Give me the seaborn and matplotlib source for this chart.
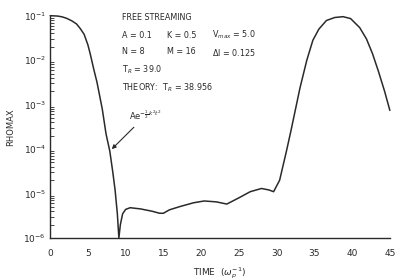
import numpy as np
import pandas as pd
import matplotlib
matplotlib.use("Agg")
import matplotlib.pyplot as plt
import seaborn as sns
from matplotlib.ticker import LogLocator, FixedLocator, NullFormatter


# values
time = [0, 1, 1.6, 2.2, 2.9, 3.5, 4.0, 4.5, 5.0, 5.3, 5.8, 6.2, 6.9, 7.4,
        7.9, 8.3, 8.6, 8.9, 9.1, 9.3, 9.6, 10.0, 10.6, 12, 13.5, 14.5, 15,
        15.8, 17.2, 19, 20.4, 22, 23.4, 25, 26.5, 28, 29, 29.6, 30.4, 31.3,
        31.9, 33.1, 34, 34.8, 35.6, 36.6, 37.7, 38.8, 39.8, 41, 41.9, 42.7,
        43.5, 44.3, 45]
rhomax = [0.1, 0.098, 0.094, 0.087, 0.076, 0.065, 0.051, 0.038, 0.022,
          0.014, 6e-3, 3.2e-3, 8e-4, 2.2e-4, 9e-5, 3e-5, 1.2e-5, 3.5e-6,
          1e-6, 2e-6, 3.5e-6, 4.4e-6, 4.8e-6, 4.5e-6, 4e-6, 3.6e-6, 3.6e-6,
          4.3e-6, 5.1e-6, 6.2e-6, 6.8e-6, 6.5e-6, 5.8e-6, 8e-6, 1.1e-5,
          1.3e-5, 1.2e-5, 1.1e-5, 2e-5, 9e-5, 2.6e-4, 2.4e-3, 1e-2, 0.028,
          0.05, 0.078, 0.091, 0.095, 0.086, 0.054, 0.03, 0.014, 5.5e-3,
          2e-3, 7.4e-4]
x_ticks = [0, 5, 10, 15, 20, 25, 30, 35, 40, 45]
info_lines = [
    ["FREE STREAMING"],
    ["A = 0.1", "K = 0.5", r"V$_{max}$ = 5.0"],
    ["N = 8", "M = 16", r"$\Delta$I = 0.125"],
    [r"T$_R$ = 39.0"],
    [r"THEORY:  T$_R$ = 38.956"],
]

df = pd.DataFrame({"time": time, "rhomax": rhomax})

sns.set_style("white")
plt.rcParams["font.family"] = ["DejaVu Sans"]
ink = "#2a2a2a"

fig = plt.figure(figsize=(3.95, 2.8), dpi=100)
ax = fig.add_axes([0.127, 0.15, 0.86, 0.794])

sns.lineplot(data=df, x="time", y="rhomax", ax=ax, color=ink, lw=1.1,
             clip_on=False)
ax.set_yscale("log")
ax.set_xlim(0, 45)
ax.set_ylim(1e-6, 1e-1)

sns.despine(ax=ax)
for side in ["left", "bottom"]:
    ax.spines[side].set_color(ink)
    ax.spines[side].set_linewidth(1.0)

ax.xaxis.set_major_locator(FixedLocator(x_ticks))
ax.tick_params(axis="x", direction="out", length=5, width=0.9, colors=ink,
               labelsize=6.5, pad=3)
ax.yaxis.set_major_locator(LogLocator(base=10, numticks=10))
ax.yaxis.set_minor_locator(LogLocator(base=10, subs=np.arange(2, 10), numticks=10))
ax.yaxis.set_minor_formatter(NullFormatter())
ax.tick_params(axis="y", which="major", direction="in", length=6, width=0.9,
               colors=ink, labelsize=6.5, pad=3)
ax.tick_params(axis="y", which="minor", direction="in", length=3, width=0.6,
               colors=ink, left=True)

ax.set_xlabel(r"TIME  ($\omega_p^{-1}$)", fontsize=6.5, color=ink, labelpad=5)
ax.set_ylabel("RHOMAX", fontsize=6, color=ink, labelpad=6)

# parameter block
fs = 5.8
col_x = [122, 167, 212]
row_y = [18, 35, 52, 70, 88]
for row, yy in zip(info_lines, row_y):
    for txt, xx in zip(row, col_x):
        fig.text(xx / 395, 1 - yy / 280, txt, fontsize=fs, color=ink,
                 va="center", ha="left")

ax.annotate(r"Ae$^{-\frac{1}{2}k^2t^2}$", xy=(7.9, 9e-5), xytext=(10.5, 4.5e-4),
            fontsize=6, color=ink,
            arrowprops=dict(arrowstyle="-|>", color=ink, lw=0.8,
                            mutation_scale=6))

fig.savefig("out.png", dpi=100)
